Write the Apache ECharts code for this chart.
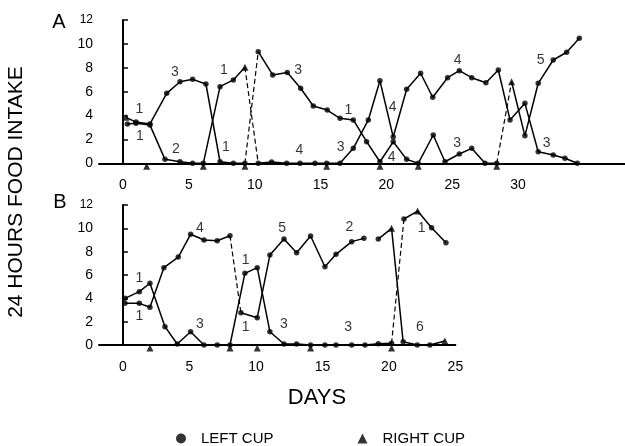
<!DOCTYPE html>
<html><head><meta charset="utf-8">
<script src="https://cdn.jsdelivr.net/npm/echarts@6/dist/echarts.min.js"></script>
<style>html,body{margin:0;padding:0;background:#fff}#c{width:625px;height:446px}</style>
</head><body><div id="c"></div>
<script>
// ---------- DATA ----------
// Panel A tracks (day, intake g)
const daysA1 = [0.23,0.99,2.05,3.32,4.33,5.29,6.30,7.37,8.38,9.26,10.27,11.37,12.48,13.49,14.45,15.51,16.48,17.49,18.50,19.51,20.52,21.54,22.42,23.56,24.45,25.54,26.48,27.49,28.38,29.51,30.52,31.53,32.67,33.69,34.65];
const valsA1 = [3.85,3.45,3.3,5.86,6.83,7.03,6.64,0.13,0,0,9.35,7.4,7.6,6.28,4.8,4.46,3.77,3.63,1.81,0.13,1.8,0.33,0,2.37,0.13,0.78,1.25,0,0,6.83,2.3,6.7,8.65,9.3,10.47];
const cupsA1 = ['R','L','L','L','L','L','L','L','L','L','L','L','L','L','L','L','L','L','L','L','L','L','L','L','L','L','L','L','L','R','L','L','L','L','L'];
const dashedA1 = [9,28];
const daysA2 = [0.33,0.99,2.05,3.19,4.33,5.29,6.10,7.37,8.38,9.26,10.27,11.29,12.43,13.44,14.58,15.47,16.48,17.49,18.63,19.51,20.52,21.54,22.60,23.52,24.65,25.54,26.48,27.56,28.50,29.39,30.52,31.53,32.67,33.56,34.50];
const valsA2 = [3.29,3.35,3.2,0.33,0.13,0,0,6.42,6.98,8.04,0,0.1,0,0,0,0,0,1.25,3.63,6.92,2.2,6.2,7.54,5.53,7.17,7.76,7.17,6.75,7.81,3.63,5.02,0.97,0.7,0.42,0];
const cupsA2 = ['L','L','L','L','L','L','L','L','L','R','L','L','L','L','L','L','L','L','L','L','L','L','L','L','L','L','L','L','L','L','L','L','L','L','L'];
const dashedA2 = [9];
const switchDaysA = [1.80,6.10,9.26,15.47,19.51,22.42,28.38];
// Panel B tracks
const daysB1 = [0.15,1.23,2.03,3.16,4.08,5.09,6.09,7.09,8.05,9.17,10.10,11.05,12.11,13.06,14.11,15.19,16.02,17.20,18.20,19.20,20.20,21.13,22.16,23.21,24.29];
const valsB1 = [4.0,4.57,5.29,1.57,0.09,1.14,0,0,0,6.14,6.63,1.14,0.09,0.09,0,0,0,0,0,0.1,0.14,10.8,11.48,10.05,8.77];
const cupsB1 = ['L','L','L','L','L','L','L','L','L','L','L','L','L','L','L','L','L','L','L','L','L','L','R','L','L'];
const dashedB1 = [20];
const daysB2 = [0.15,1.23,2.03,3.08,4.16,5.09,6.09,7.09,8.05,8.87,10.10,11.05,12.11,13.06,14.11,15.19,16.02,17.20,18.12,19.20,20.20,21.07,22.13,23.08,24.21];
const valsB2 = [3.57,3.57,3.23,6.63,7.54,9.49,9.0,8.94,9.37,2.77,2.34,7.71,9.08,7.91,9.34,6.71,7.77,8.86,9.14,9.08,10.0,0.28,0,0,0.34];
const cupsB2 = ['L','L','L','L','L','L','L','L','L','L','L','L','L','L','L','L','L','L','L','L','R','L','L','L','R'];
const dashedB2 = [8];
const gapsB2 = [18];
const switchDaysB = [2.03,8.05,10.10,14.11,20.20];
// Diet annotations (day, value, text)
const noteDaysA = [1.24,1.29,3.95,4.02,7.67,7.82,13.31,13.39,17.11,16.53,20.48,20.40,25.41,25.38,31.72,32.17];
const noteValsA = [4.52,2.29,7.67,1.17,7.76,1.34,7.76,1.11,4.46,1.34,4.74,0.55,8.65,1.68,8.65,1.68];
const noteTextA = ['1','1','3','2','1','1','3','4','1','3','4','4','4','3','5','3'];
const noteDaysB = [1.23,1.23,5.79,5.79,9.23,9.23,11.98,12.11,17.02,16.94,22.46,22.33];
const noteValsB = [5.72,2.51,10.05,1.77,7.28,1.57,10.0,1.77,10.14,1.57,10.0,1.57];
const noteTextB = ['1','1','4','3','1','1','5','3','2','3','1','6'];
// Axis tick labels
const xTicksA = [0,5,10,15,20,25,30];
const xTicksB = [0,5,10,15,20,25];
const yTicks = [0,2,4,6,8,10,12];
const panelLabels = ['A','B'];
const yTitle = '24 HOURS FOOD INTAKE';
const xTitle = 'DAYS';
const legendNames = ['LEFT CUP','RIGHT CUP'];

// ---------- BUILD ----------
const FONT = '"Liberation Sans", Arial, Helvetica, sans-serif';
const series = [];
function addTrack(days, vals, dashed, gaps, ai) {
  let run = [[days[0], vals[0]]];
  for (let i = 0; i < days.length - 1; i++) {
    const isDash = dashed.includes(i), isGap = (gaps || []).includes(i);
    if (isDash || isGap) {
      if (run.length > 1) pushLine(run, ai, false);
      if (isDash) pushLine([[days[i], vals[i]], [days[i+1], vals[i+1]]], ai, true);
      run = [[days[i+1], vals[i+1]]];
    } else run.push([days[i+1], vals[i+1]]);
  }
  if (run.length > 1) pushLine(run, ai, false);
}
function pushLine(data, ai, dashed) {
  series.push({type:'line', xAxisIndex:ai, yAxisIndex:ai, data, symbol:'none', silent:true,
    lineStyle:{color:'#000', width:dashed?1.2:1.5, type:dashed?[5,3]:'solid'}, z:2});
}
function addPoints(days, vals, cups, ai) {
  const L = [], R = [];
  days.forEach((d, i) => (cups[i] === 'R' ? R : L).push([d, vals[i]]));
  series.push({type:'scatter', name:legendNames[0], xAxisIndex:ai, yAxisIndex:ai, data:L, symbol:'circle', symbolSize:5.5, itemStyle:{color:'#000'}, clip:false, z:3});
  series.push({type:'scatter', name:legendNames[1], xAxisIndex:ai, yAxisIndex:ai, data:R, symbol:'triangle', symbolSize:7, itemStyle:{color:'#000'}, clip:false, z:3});
}
function addSwitch(days, ai) {
  series.push({type:'scatter', name:legendNames[1], xAxisIndex:ai, yAxisIndex:ai, data:days.map(d=>[d,0]), symbol:'triangle', symbolSize:7, symbolOffset:[0,3], itemStyle:{color:'#000'}, clip:false, z:4});
}
function addNotes(days, vals, texts, ai) {
  series.push({type:'scatter', xAxisIndex:ai, yAxisIndex:ai, data:days.map((d,i)=>[d, vals[i], texts[i]]), symbolSize:1, itemStyle:{color:'rgba(0,0,0,0)'}, clip:false, silent:true, z:5,
    label:{show:true, position:'inside', formatter:p=>p.value[2], fontSize:14, color:'#000', fontFamily:FONT}});
}
addTrack(daysA1, valsA1, dashedA1, [], 0);
addTrack(daysA2, valsA2, dashedA2, [], 0);
addPoints(daysA1, valsA1, cupsA1, 0);
addPoints(daysA2, valsA2, cupsA2, 0);
addSwitch(switchDaysA, 0);
addNotes(noteDaysA, noteValsA, noteTextA, 0);
addTrack(daysB1, valsB1, dashedB1, [], 1);
addTrack(daysB2, valsB2, dashedB2, gapsB2, 1);
addPoints(daysB1, valsB1, cupsB1, 1);
addPoints(daysB2, valsB2, cupsB2, 1);
addSwitch(switchDaysB, 1);
addNotes(noteDaysB, noteValsB, noteTextB, 1);

function xAxis(gi, min, max, ticks) {
  return {type:'value', gridIndex:gi, min, max, splitLine:{show:false},
    axisLine:{show:true, onZero:false, lineStyle:{color:'#000', width:2}}, axisTick:{show:false},
    axisLabel:{customValues:ticks, fontSize:14, color:'#000', margin:15, fontFamily:FONT}};
}
function yAxis(gi) {
  return {type:'value', gridIndex:gi, min:yTicks[0], max:yTicks[yTicks.length-1], interval:2, splitLine:{show:false},
    axisLine:{show:true, lineStyle:{color:'#000', width:2}},
    axisTick:{show:true, inside:true, length:5, lineStyle:{color:'#000', width:1.5}},
    axisLabel:{fontSize:14, color:'#000', margin:6, fontFamily:FONT,
      formatter:v => v === 12 ? '{s|12}' : String(v), rich:{s:{fontSize:12, fontFamily:FONT, color:'#000'}}}};
}
const option = {
  animation:false,
  backgroundColor:'#fff',
  grid:[{left:99, top:20, width:526, height:143.3}, {left:99, top:205, width:356.4, height:140}],
  xAxis:[xAxis(0, -1.82, 38.12, xTicksA), xAxis(1, -1.8, 25, xTicksB)],
  yAxis:[yAxis(0), yAxis(1)],
  legend:{data:[{name:legendNames[0], icon:'circle'},{name:legendNames[1], icon:'triangle'}], left:176, top:431, padding:0,
    itemWidth:10, itemHeight:10, itemGap:84, selectedMode:false,
    textStyle:{fontSize:15, color:'#000', fontFamily:FONT, padding:[0,0,0,10]}},
  graphic:[
    {type:'text', x:59, y:22, style:{text:panelLabels[0], font:'20px '+FONT, fill:'#000', textAlign:'center', textVerticalAlign:'middle'}},
    {type:'text', x:60, y:202, style:{text:panelLabels[1], font:'20px '+FONT, fill:'#000', textAlign:'center', textVerticalAlign:'middle'}},
    {type:'text', x:317, y:398, style:{text:xTitle, font:'22px '+FONT, fill:'#000', textAlign:'center', textVerticalAlign:'middle'}},
    {type:'text', x:16, y:192, rotation:Math.PI/2, style:{text:yTitle, font:'21px '+FONT, fill:'#000', textAlign:'center', textVerticalAlign:'middle'}}
  ],
  series
};
const chart = echarts.init(document.getElementById('c'));
chart.setOption(option);
</script></body></html>
